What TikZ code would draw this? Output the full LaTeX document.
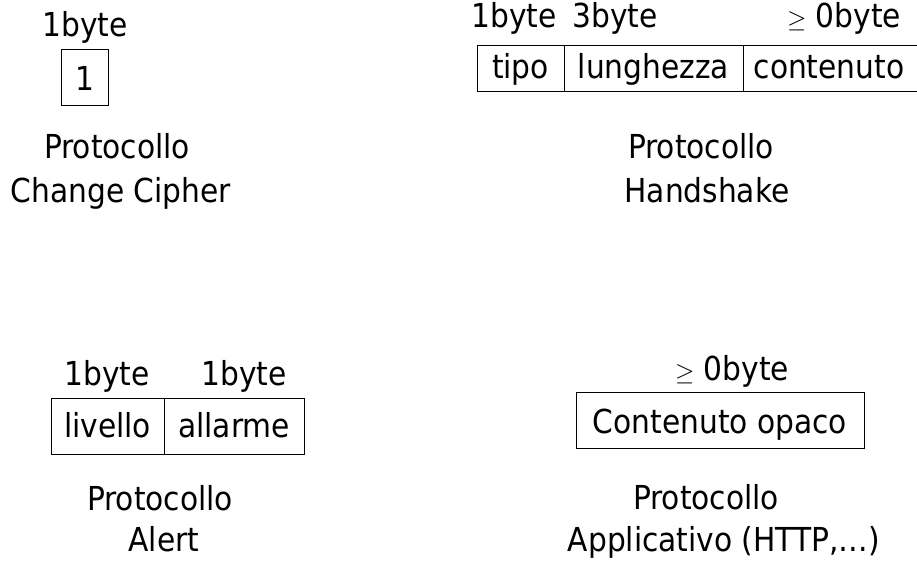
\documentclass[tikz,border=0pt]{standalone}
\usepackage{fontspec}
\setmainfont{DejaVu Sans Condensed}
\begin{document}
\begin{tikzpicture}[x=1pt,y=-1pt,
  every node/.style={font=\fontsize{33}{40}\selectfont, inner sep=0pt, outer sep=0pt},
  cell/.style={draw, line width=1pt, anchor=north west},
  lbl/.style={anchor=base},
  txt/.style={anchor=base},
  captxt/.style={anchor=base}]
\clip (0,0) rectangle (917,561);
\fill[white] (0,0) rectangle (917,561);
% Change Cipher
\node[lbl] (cc1b) at (85,37) {1byte};
\node[cell, minimum width=47pt, minimum height=56pt] (cc1) at (61,50) {};
\node[txt] (cc1t) at (84.5,91) {1};
\node[captxt] (ccp) at (117,159) {Protocollo};
\node[captxt] (ccn) at (121,203) {Change Cipher};
% Handshake
\node[lbl] (hs1b) at (514,28) {1byte};
\node[lbl] (hs3b) at (615,28) {3byte};
\node[lbl, anchor=base east] (hs0b) at (901,28) {$\geq$ 0byte};
\node[cell, minimum width=87pt, minimum height=46pt] (hst) at (477,46) {};
\node[cell, minimum width=179pt, minimum height=46pt] (hsl) at (564,46) {};
\node[cell, minimum width=200pt, minimum height=46pt] (hsc) at (743,46) {};
\node[txt] (hstt) at (520.5,79) {tipo};
\node[txt] (hslt) at (653.5,79) {lunghezza};
\node[txt] (hsct) at (829,79) {contenuto};
\node[captxt] (hsp) at (701,159) {Protocollo};
\node[captxt] (hsn) at (707,203) {Handshake};
% Alert
\node[lbl] (al1b) at (107,385) {1byte};
\node[lbl] (al2b) at (244,385) {1byte};
\node[cell, minimum width=113pt, minimum height=56pt] (alv) at (51,398) {};
\node[cell, minimum width=140pt, minimum height=56pt] (ala) at (164,398) {};
\node[txt] (alvt) at (107.5,437) {livello};
\node[txt] (alat) at (234,437) {allarme};
\node[captxt] (alp) at (160,510) {Protocollo};
\node[captxt] (aln) at (164,551) {Alert};
% Applicativo
\node[lbl] (ap0b) at (732,380) {$\geq$ 0byte};
\node[cell, minimum width=288pt, minimum height=56pt] (apc) at (576,392) {};
\node[txt] (apct) at (720,433) {Contenuto opaco};
\node[captxt] (app) at (706,509) {Protocollo};
\node[captxt] (apn) at (724,551) {Applicativo (HTTP,…)};
\end{tikzpicture}
\end{document}
